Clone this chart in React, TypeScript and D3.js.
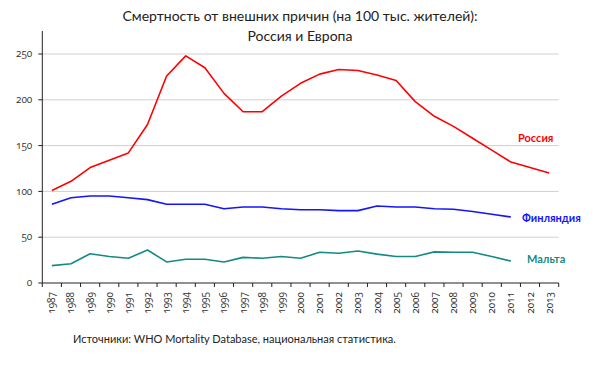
import React from "react";
import * as d3 from "d3";

const years = ["1987","1988","1989","1990","1991","1992","1993","1994","1995","1996","1997","1998","1999","2000","2001","2002","2003","2004","2005","2006","2007","2008","2009","2010","2011","2012","2013"];
const russia = [101,111,126,134,142,173,226,248,235,207,187,187,204,218,228,233,232,227,221,198,182,171,158,145,132,126,120];
const finland = [86,93,95,95,93,91,86,86,86,81,83,83,81,80,80,79,79,84,83,83,81,80.5,78,75,72];
const malta = [19,21,32,29,27,36,23,26,26,23,28,27,29,27,33.5,32.5,35,31.5,29,29,34,33.5,33.5,29,24];
const yTicks = [0,50,100,150,200,250];
const titleLines = ["Смертность от внешних причин (на 100 тыс. жителей):", "Россия и Европа"];
const source = "Источники: WHO Mortality Database, национальная статистика.";
const seriesDefs = [
  { name: "Россия", values: russia, color: "#ff0000" },
  { name: "Финляндия", values: finland, color: "#1414ff" },
  { name: "Мальта", values: malta, color: "#138a85" },
];

const FONT = "Lato, 'Open Sans', sans-serif";
const NUMFONT = "'Open Sans', Lato, sans-serif";
const numStyle = { fontVariantNumeric: "oldstyle-nums", fontFeatureSettings: "'onum' 1" } as React.CSSProperties;

export default function App() {
  const W = 600, H = 375;
  const left = 42.3, right = 558.7, top = 31, bottom = 283;
  const x = d3.scaleBand<string>().domain(years).range([left, right]).padding(0);
  const y = d3.scaleLinear().domain([0, 250]).range([bottom, 54]);
  const cx = (i: number) => (x(years[i]) as number) + x.bandwidth() / 2;
  const line = d3.line<number>().x((_, i) => cx(i)).y((d) => y(d));
  const labelPos = [
    { x: 518, y: 142 },
    { x: 522, y: 222 },
    { x: 527, y: 263 },
  ];
  const ticksX = years.map((yr) => x(yr) as number).concat([right]);
  return (
    <svg width={W} height={H} style={{ position: "absolute", left: 0, top: 0, fontFamily: FONT }}>
      <rect width={W} height={H} fill="#fff" />
      {titleLines.map((t, i) => (
        <text key={i} x={300} y={21 + i * 20} textAnchor="middle" fontSize={14} fill="#222">{t}</text>
      ))}
      {yTicks.filter((t) => t > 0).map((t) => (
        <line key={t} x1={left} x2={right} y1={y(t)} y2={y(t)} stroke="#d0d0d0" strokeWidth={1} />
      ))}
      <line x1={left} x2={left} y1={top} y2={bottom} stroke="#222" strokeWidth={1} />
      <line x1={left} x2={right} y1={bottom} y2={bottom} stroke="#222" strokeWidth={1} />
      {yTicks.map((t) => (
        <g key={t}>
          <line x1={left - 4} x2={left} y1={y(t)} y2={y(t)} stroke="#222" />
          <text x={left - 10} y={y(t)} dy="0.32em" textAnchor="end" fontSize={10} fill="#333" fontFamily={NUMFONT} style={numStyle}>{t}</text>
        </g>
      ))}
      {ticksX.map((tx, i) => (
        <line key={i} x1={tx} x2={tx} y1={bottom} y2={bottom + 4} stroke="#222" />
      ))}
      {years.map((yr, i) => (
        <text key={yr} transform={`translate(${cx(i) + 3.5},${bottom + 9}) rotate(-90)`} textAnchor="end" fontSize={10} fill="#333" fontFamily={NUMFONT} style={numStyle}>{yr}</text>
      ))}
      {seriesDefs.map((s, k) => (
        <g key={s.name}>
          <path d={line(s.values) || ""} fill="none" stroke={s.color} strokeWidth={1.6} strokeLinejoin="round" />
          <text x={labelPos[k].x} y={labelPos[k].y} fontSize={11} fontWeight="bold" fill={s.color}>{s.name}</text>
        </g>
      ))}
      <text x={73} y={343} fontSize={11} fill="#222">{source}</text>
    </svg>
  );
}
